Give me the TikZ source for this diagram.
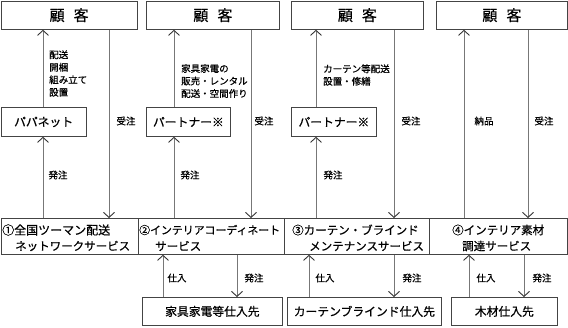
\documentclass[tikz,border=0pt]{standalone}
\usepackage{fontspec}
\setmainfont{Noto Sans CJK JP}[FakeBold=0.6]
\usetikzlibrary{arrows.meta}
\definecolor{bordc}{HTML}{444444}
\definecolor{linec}{HTML}{777777}
\tikzset{
  boxn/.style={draw=bordc,line width=0.8pt,inner sep=0pt,anchor=north west},
  arr/.style={draw=linec,line width=1pt,-{Straight Barb[length=5pt,width=11pt,line width=0.9pt,color=black!80]}},
  lab/.style={font=\fontsize{9.5}{12.5}\selectfont,inner sep=0pt},
  big/.style={font=\fontsize{15}{18}\selectfont},
  mid/.style={font=\fontsize{11.8}{14}\selectfont},
  svc/.style={font=\fontsize{11.5}{14}\selectfont,anchor=west,inner sep=0pt},
}
\begin{document}
\begin{tikzpicture}[x=1pt,y=-1pt]
\useasboundingbox (0,0) rectangle (568,327);
% top boxes
\node[boxn,minimum width=136.5pt,minimum height=28.5pt] (c1) at (0.5,0.5) {};
\node[big] at (c1.center) {顧\hspace{0.6em}客};
\node[boxn,minimum width=133pt,minimum height=28.5pt] (c2) at (146,0.5) {};
\node[big] at (c2.center) {顧\hspace{0.6em}客};
\node[boxn,minimum width=132pt,minimum height=28.5pt] (c3) at (291,0.5) {};
\node[big] at (c3.center) {顧\hspace{0.6em}客};
\node[boxn,minimum width=131pt,minimum height=28.5pt] (c4) at (436,0.5) {};
\node[big] at (c4.center) {顧\hspace{0.6em}客};
% middle boxes
\node[boxn,minimum width=85.5pt,minimum height=29pt] (pp) at (0.5,107) {};
\node[mid] at (pp.center) {パパネット};
\node[boxn,minimum width=84pt,minimum height=29pt] (pt2) at (146,107) {};
\node[mid] at (pt2.center) {パートナー※};
\node[boxn,minimum width=85pt,minimum height=29pt] (pt3) at (291,107) {};
\node[mid] at (pt3.center) {パートナー※};
% service boxes
\node[boxn,minimum width=137.5pt,minimum height=36pt] (s1) at (0.5,218) {};
\node[boxn,minimum width=146pt,minimum height=36pt] (s2) at (138,218) {};
\node[boxn,minimum width=145pt,minimum height=36pt] (s3) at (284,218) {};
\node[boxn,minimum width=138pt,minimum height=36pt] (s4) at (429,218) {};
\node[svc,font=\fontsize{12}{14}\selectfont] at (2,230) {①全国ツーマン配送};
\node[svc] at (15,246) {ネットワークサービス};
\node[svc,font=\fontsize{10.9}{14}\selectfont] at (139,230) {②インテリアコーディネート};
\node[svc] at (155,246) {サービス};
\node[svc] at (292,230) {③カーテン・ブラインド};
\node[svc] at (309,246) {メンテナンスサービス};
\node[svc] at (452,230) {④インテリア素材};
\node[svc] at (462,246) {調達サービス};
% supplier boxes
\node[boxn,minimum width=140pt,minimum height=28pt] (u2) at (142,297) {};
\node[mid] at (u2.center) {家具家電等仕入先};
\node[boxn,minimum width=154pt,minimum height=28pt] (u3) at (287,297) {};
\node[mid] at (u3.center) {カーテンブラインド仕入先};
\node[boxn,minimum width=106pt,minimum height=28pt] (u4) at (451,297) {};
\node[mid] at (u4.center) {木材仕入先};
% column coordinates
\coordinate (a1) at (43,0);
\coordinate (b1) at (109,0);
\coordinate (a2) at (174,0);
\coordinate (b2) at (251,0);
\coordinate (a3) at (316,0);
\coordinate (b3) at (394,0);
\coordinate (a4) at (464,0);
\coordinate (b4) at (528,0);
\coordinate (d2) at (163,0);
\coordinate (e2) at (237,0);
\coordinate (d3) at (309,0);
\coordinate (e3) at (394,0);
\coordinate (d4) at (469,0);
\coordinate (e4) at (524,0);
% upper arrows
\draw[arr] (s1.north -| a1) -- (pp.south -| a1);
\draw[arr] (pp.north -| a1) -- (c1.south -| a1);
\draw[arr] (c1.south -| b1) -- (s1.north -| b1);
\draw[arr] (s2.north -| a2) -- (pt2.south -| a2);
\draw[arr] (pt2.north -| a2) -- (c2.south -| a2);
\draw[arr] (c2.south -| b2) -- (s2.north -| b2);
\draw[arr] (s3.north -| a3) -- (pt3.south -| a3);
\draw[arr] (pt3.north -| a3) -- (c3.south -| a3);
\draw[arr] (c3.south -| b3) -- (s3.north -| b3);
\draw[arr] (s4.north -| a4) -- (c4.south -| a4);
\draw[arr] (c4.south -| b4) -- (s4.north -| b4);
% lower arrows
\draw[arr] (u2.north -| d2) -- (s2.south -| d2);
\draw[arr] (s2.south -| e2) -- (u2.north -| e2);
\draw[arr] (u3.north -| d3) -- (s3.south -| d3);
\draw[arr] (s3.south -| e3) -- (u3.north -| e3);
\draw[arr] (u4.north -| d4) -- (s4.south -| d4);
\draw[arr] (s4.south -| e4) -- (u4.north -| e4);
% labels
\node[lab,anchor=west,align=left] at (49,73.5) {配送\\開梱\\組み立て\\設置};
\node[lab,anchor=west,align=left] at (181,81) {家具家電の\\販売・レンタル\\配送・空間作り};
\node[lab,anchor=west,align=left] at (323,75) {カーテン等配送\\設置・修繕};
\node[lab] at (126,121) {受注};
\node[lab] at (264,121) {受注};
\node[lab] at (411,121) {受注};
\node[lab] at (484,121) {納品};
\node[lab] at (544,121) {受注};
\node[lab] at (58,175) {発注};
\node[lab] at (190,175) {発注};
\node[lab] at (333,175) {発注};
\node[lab] at (177,278) {仕入};
\node[lab] at (254,278) {発注};
\node[lab] at (325,278) {仕入};
\node[lab] at (412,278) {発注};
\node[lab] at (486,278) {仕入};
\node[lab] at (542,278) {発注};
\end{tikzpicture}
\end{document}
